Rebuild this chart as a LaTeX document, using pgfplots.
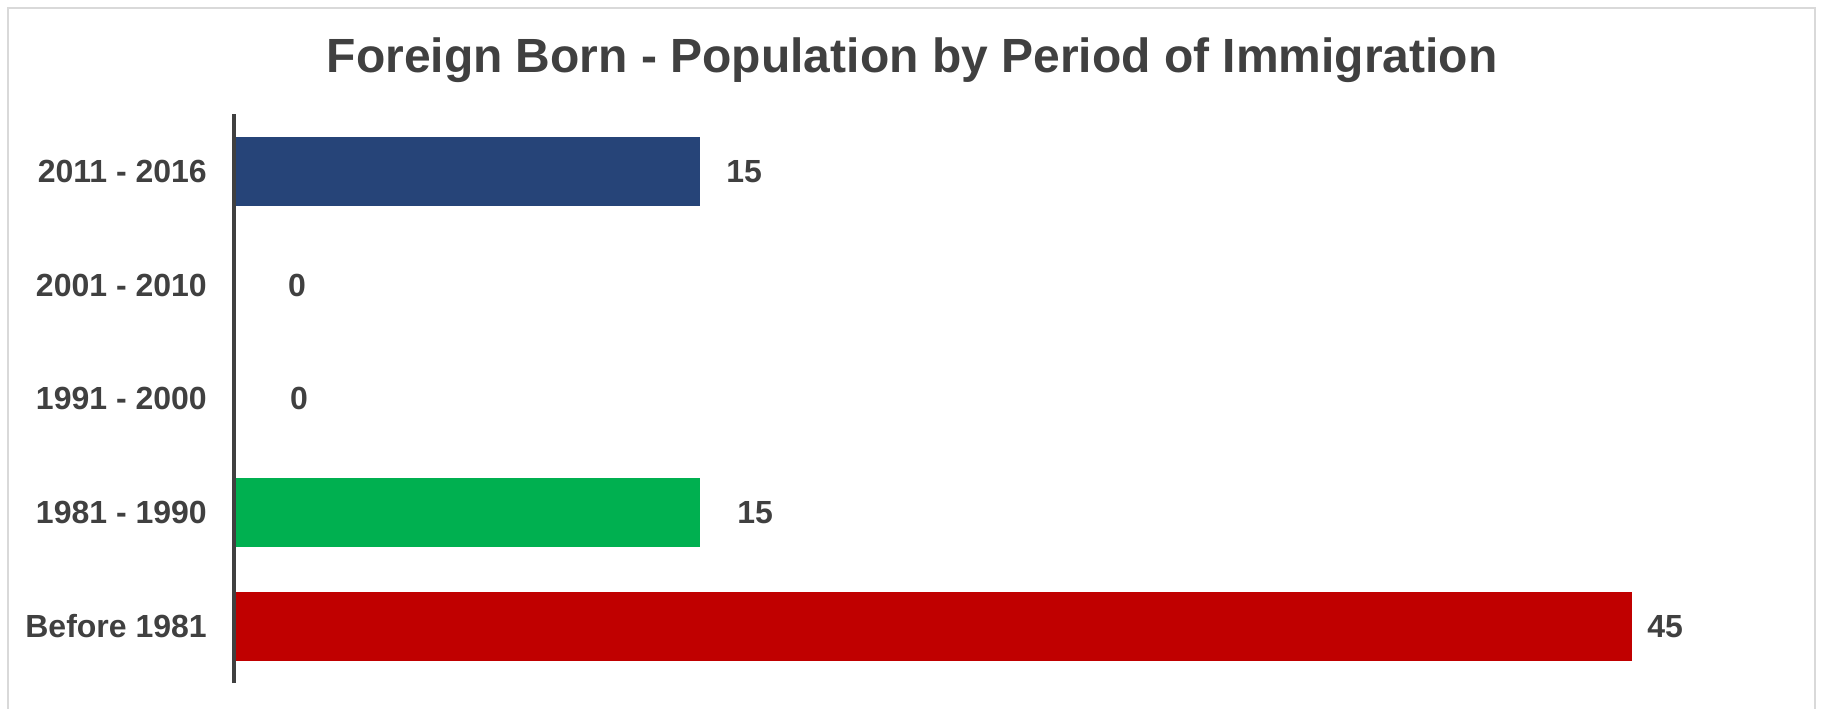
\documentclass[border=0pt]{standalone}
\usepackage{pgfplots}
\pgfplotsset{compat=1.18}
\usepackage{fontspec}
\setmainfont{Liberation Sans}
\definecolor{txt}{HTML}{404040}
\definecolor{cblue}{HTML}{264478}
\definecolor{cgreen}{HTML}{00B050}
\definecolor{cred}{HTML}{C00000}
\definecolor{framec}{HTML}{D9D9D9}
\begin{document}
\begin{tikzpicture}
\useasboundingbox (0bp,0bp) rectangle (1822bp,709bp);
\draw[framec, line width=1.5bp] (8bp,0bp) -- (8bp,701bp) -- (1815bp,701bp) -- (1815bp,0bp);
\node[anchor=base, text=txt, inner sep=0pt, font=\fontsize{48bp}{58bp}\selectfont\bfseries]
  at (912bp,636bp) {Foreign Born - Population by Period of Immigration};
\begin{axis}[
  at={(234bp,26bp)}, anchor=south west,
  scale only axis, width=1553.5bp, height=568.5bp,
  xbar, bar shift=0pt, bar width=69bp,
  xmin=0, xmax=50, ymin=-0.5, ymax=4.5,
  axis x line=none, axis y line*=left,
  y axis line style={draw=txt, line width=3.5bp},
  axis on top,
  ytick={0,1,2,3,4},
  yticklabels={Before 1981, 1981 - 1990, 1991 - 2000, 2001 - 2010, 2011 - 2016},
  major tick length=0pt,
  yticklabel style={font=\fontsize{32bp}{38bp}\selectfont\bfseries, text=txt, inner sep=0pt, xshift=-27bp},
  nodes near coords,
  nodes near coords style={font=\fontsize{32bp}{38bp}\selectfont\bfseries, text=txt, anchor=center, inner sep=0pt},
  /pgf/number format/assume math mode=true,
  clip=false,
]
\addplot[fill=cred, draw=none, nodes near coords style={xshift=33bp}] coordinates {(45,0)};
\addplot[fill=cgreen, draw=none, nodes near coords style={xshift=55bp}] coordinates {(15,1)};
\addplot[fill=white, draw=none, nodes near coords style={xshift=65bp}] coordinates {(0,2)};
\addplot[fill=white, draw=none, nodes near coords style={xshift=63bp}] coordinates {(0,3)};
\addplot[fill=cblue, draw=none, nodes near coords style={xshift=44bp}] coordinates {(15,4)};
\end{axis}
\end{tikzpicture}
\end{document}
